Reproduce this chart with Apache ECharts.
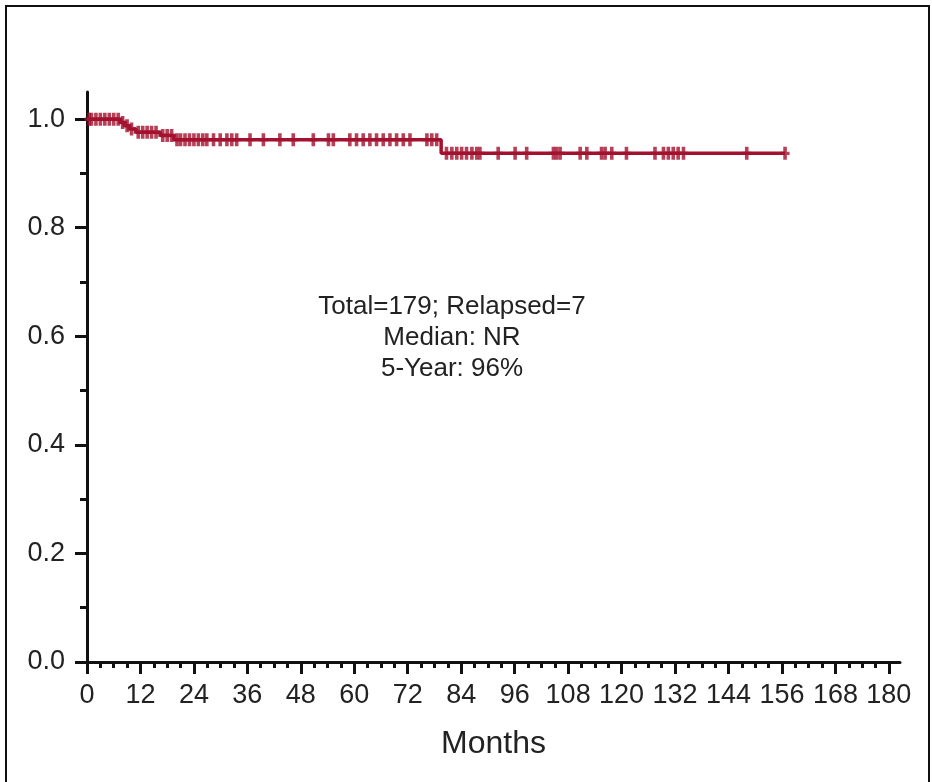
<!DOCTYPE html>
<html><head><meta charset="utf-8">
<script src="https://cdn.jsdelivr.net/npm/echarts@6/dist/echarts.min.js"></script>
<style>html,body{margin:0;padding:0;background:#fff}#c{width:932px;height:782px}</style>
</head><body><div id="c"></div>
<script>
// Kaplan-Meier steps: [month, survival after event]
const eventTimes = [0, 7.5, 8.5, 9.5, 11, 16.5, 19.5, 79.5];
const survival   = [1.0, 0.994, 0.988, 0.982, 0.976, 0.970, 0.962, 0.937];
const lastFollowUp = 156.7;
// censored observations (months)
const censorTimes = [0.5, 1, 2, 3, 4, 5, 6, 7,
  8, 9, 10, 11.5, 12.5, 13.5, 14.5, 15.5, 17, 18, 19,
  20.2, 21, 22, 23, 24, 25, 26, 26.9, 28.4, 29.9, 31.4, 32.5, 33.6, 36.6, 39.6, 43.3, 46.3,
  50.8, 54.2, 55.3, 59.0, 60.5, 62.0, 63.5, 65.0, 66.5, 68.0, 69.5, 71.0, 72.5, 76.3, 77.4, 78.5,
  80.7, 81.9, 83.0, 84.1, 85.2, 86.4, 87.5, 88.2, 92.3, 96.1, 98.7, 104.7, 105.4, 106.2,
  110.7, 112.2, 115.5, 116.3, 117.8, 121.1, 127.5, 129.4, 130.5, 131.6, 132.7, 133.9, 148.1, 156.7];
const xTickLabels = [0, 12, 24, 36, 48, 60, 72, 84, 96, 108, 120, 132, 144, 156, 168, 180];
const yTickLabels = [0, 0.2, 0.4, 0.6, 0.8, 1.0];
const yMinorTicks = [0.1, 0.3, 0.5, 0.7, 0.9];
const annotationLines = ['Total=179; Relapsed=7', 'Median: NR', '5-Year: 96%'];

const xMinorTicks = [];
for (let m = 3; m < 180; m += 3) if (m % 12 !== 0) xMinorTicks.push(m);

function survAt(t) {
  let s = survival[0];
  for (let i = 0; i < eventTimes.length; i++) if (eventTimes[i] <= t) s = survival[i];
  return s;
}
const lineData = eventTimes.map((t, i) => [t, survival[i]]);
lineData.push([lastFollowUp, survival[survival.length - 1]]);
const censorData = censorTimes.map(t => [t, survAt(t)]);

const RED = '#a3112e';
const FONT = '"Liberation Sans", Arial, Helvetica, sans-serif';
const axisBase = {min: 0, max: 182.5};
const chart = echarts.init(document.getElementById('c'));
chart.setOption({
  backgroundColor: '#fff',
  animation: false,
  grid: {left: 87, right: 32, top: 92, bottom: 120, containLabel: false},
  xAxis: [
    Object.assign({type: 'value', position: 'bottom',
      name: 'Months', nameLocation: 'middle', nameGap: 66,
      nameTextStyle: {fontFamily: FONT, fontSize: 32, color: '#222'},
      axisLine: {show: true, onZero: false, lineStyle: {color: '#111', width: 3}},
      axisTick: {show: true, length: 12, lineStyle: {color: '#111', width: 3}, customValues: xTickLabels},
      axisLabel: {fontFamily: FONT, fontSize: 27, color: '#222', margin: 20, customValues: xTickLabels},
      splitLine: {show: false}}, axisBase),
    Object.assign({type: 'value', position: 'bottom', offset: 0,
      axisLine: {show: false, onZero: false},
      axisTick: {show: true, length: 6, lineStyle: {color: '#111', width: 3}, customValues: xMinorTicks},
      axisLabel: {show: false}, splitLine: {show: false}}, axisBase)
  ],
  yAxis: [
    {type: 'value', min: 0, max: 1.05, position: 'left',
      axisLine: {show: true, onZero: false, lineStyle: {color: '#111', width: 3}},
      axisTick: {show: true, length: 12, lineStyle: {color: '#111', width: 3}, customValues: yTickLabels},
      axisLabel: {fontFamily: FONT, fontSize: 27, color: '#222', margin: 22, customValues: yTickLabels,
        formatter: v => v.toFixed(1)},
      splitLine: {show: false}},
    {type: 'value', min: 0, max: 1.05, position: 'left', offset: 0,
      axisLine: {show: false, onZero: false},
      axisTick: {show: true, length: 7, lineStyle: {color: '#111', width: 3}, customValues: yMinorTicks},
      axisLabel: {show: false}, splitLine: {show: false}}
  ],
  series: [
    {type: 'line', step: 'end', data: lineData, showSymbol: false, symbol: 'none',
      lineStyle: {color: RED, width: 3.5}, z: 3},
    {type: 'scatter', data: censorData,
      symbol: 'path://M3,0 L7,0 L7,3.8 L10,3.8 L10,6.2 L7,6.2 L7,10 L3,10 L3,6.2 L0,6.2 L0,3.8 L3,3.8 Z',
      symbolSize: [9, 13], itemStyle: {color: RED}, z: 4}
  ],
  graphic: [
    {type: 'rect', shape: {x: 6, y: 6, width: 923, height: 790}, style: {fill: 'none', stroke: '#111', lineWidth: 2}, silent: true},
    {type: 'text', x: 452, y: 291, style: {
      text: annotationLines.join('\n'), textAlign: 'center', textVerticalAlign: 'top', font: '26px ' + FONT,
      fill: '#222', lineHeight: 31}}
  ]
});
</script></body></html>
